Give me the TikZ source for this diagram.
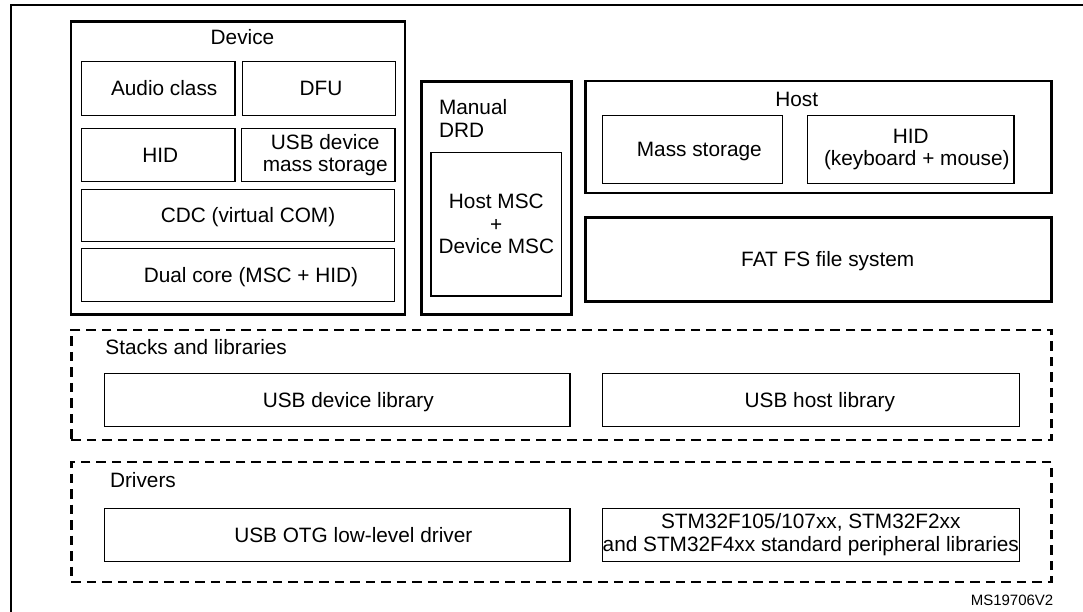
\documentclass[tikz,border=0pt]{standalone}
\usepackage{fontspec}
\setmainfont{Liberation Sans}
\newcommand\mainfs{\fontsize{20.8}{22.5}\selectfont}
\newcommand\smallfs{\fontsize{15}{17}\selectfont}
\tikzset{
  every node/.style={inner sep=0pt, outer sep=0pt, font=\mainfs},
  thickbox/.style={draw, line width=2.5pt},
  thinbox/.style={draw, line width=1.1pt, align=center},
  dashbox/.style={draw, line width=2.4pt, dash pattern=on 9.5pt off 6pt},
  oneline/.style={text height=14.9pt, text depth=0pt},
  frameline/.style={line width=2.2pt},
}
\begin{document}
\begin{tikzpicture}[x=1pt, y=-1pt]
\useasboundingbox (0,0) rectangle (1083,611);
% outer figure frame
\coordinate (fbl) at (11,612);
\coordinate (ftl) at (11,5);
\coordinate (ftr) at (1084,5);
\draw[frameline] (fbl) -- (ftl) -- (ftr);

% Device group
\node[thickbox, minimum width=334, minimum height=292.6] (device) at (238,168) {};
\node[oneline] (devicelbl) at (242.5,37) {Device};
\node[thinbox, oneline, minimum width=153.6, minimum height=53.3] (audio) at (158.2,88.4) {\hspace*{12pt}Audio class};
\node[thinbox, oneline, minimum width=153.7, minimum height=53.3] (dfu) at (318.9,88.4) {\hspace*{4pt}DFU};
\node[thinbox, oneline, minimum width=153.6, minimum height=53.4] (hid) at (158.2,155) {\hspace*{4pt}HID};
\node[thinbox, minimum width=153.6, minimum height=53.4] (usbms) at (318.2,155) {\hspace*{14pt}USB device\\\hspace*{14pt}mass storage};
\node[thinbox, oneline, minimum width=313.2, minimum height=52.7] (cdc) at (238,215.4) {\hspace*{20pt}CDC (virtual COM)};
\node[thinbox, oneline, minimum width=313.2, minimum height=53.4] (dual) at (238,275) {\hspace*{26pt}Dual core (MSC + HID)};

% Manual DRD
\node[thickbox, minimum width=150, minimum height=232.6] (drd) at (496.7,198) {};
\node[anchor=north west, align=left] (drdlbl) at (439,99.5) {Manual\\DRD};
\node[thinbox, minimum width=130.7, minimum height=143.3] (drdin) at (496.3,224.3) {Host MSC\\+\\Device MSC};

% Host
\node[thickbox, minimum width=466, minimum height=112] (host) at (818.7,137) {};
\node[oneline] (hostlbl) at (796.7,99) {Host};
\node[thinbox, oneline, minimum width=180, minimum height=67.6] (mass) at (692.3,149.5) {\hspace*{14pt}Mass storage};
\node[thinbox, minimum width=206.3, minimum height=67.6] (hidk) at (910.8,149.5) {HID\\\hspace*{12pt}(keyboard + mouse)};
\node[thickbox, oneline, minimum width=466, minimum height=84.4] (fat) at (818.7,259.5) {\hspace*{18pt}FAT FS file system};

% Stacks and libraries
\node[dashbox, minimum width=980.3, minimum height=110] (stacks) at (561.5,385) {};
\node[oneline, anchor=west] (stackslbl) at (105.4,346.7) {Stacks and libraries};
\node[thinbox, oneline, minimum width=465.4, minimum height=52.7] (devlib) at (337.3,399.7) {\hspace*{22pt}USB device library};
\node[thinbox, oneline, minimum width=417, minimum height=52.7] (hostlib) at (810.8,399.7) {\hspace*{18pt}USB host library};

% Drivers
\node[dashbox, minimum width=980.3, minimum height=120] (drivers) at (561.5,521.7) {};
\node[oneline, anchor=west] (driverslbl) at (110,480) {Drivers};
\node[thinbox, oneline, minimum width=465.4, minimum height=52.7] (otg) at (337.3,534.7) {\hspace*{32pt}USB OTG low-level driver};
\node[thinbox, minimum width=417, minimum height=52.7] (stm) at (810.8,534.7) {STM32F105/107xx, STM32F2xx\\and STM32F4xx standard peripheral libraries};

% reference
\node[anchor=east, font=\smallfs, text height=10.8pt, text depth=0pt] (ref) at (1053.3,600) {MS19706V2};
\end{tikzpicture}
\end{document}
